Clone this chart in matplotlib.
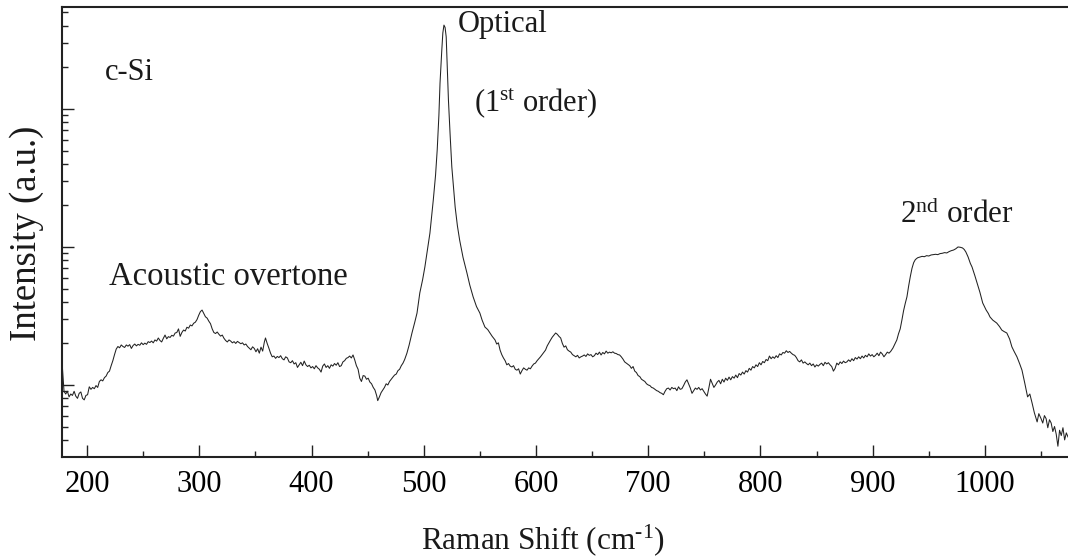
import numpy as np
import matplotlib
matplotlib.use("Agg")
import matplotlib.pyplot as plt
from matplotlib.ticker import LogLocator, NullFormatter, MultipleLocator

plt.rcParams['font.family'] = ['Liberation Serif', 'DejaVu Serif']
plt.rcParams['mathtext.fontset'] = 'custom'
plt.rcParams['mathtext.rm'] = 'Liberation Serif'
plt.rcParams['mathtext.it'] = 'Liberation Serif:italic'

# Raman spectrum of c-Si, piece by piece (cm-1, a.u.)
# acoustic overtone region
shift_a = [178, 179.5, 181, 182.5, 184, 185.5, 187, 188.5, 190, 191.5, 193, 194.5, 196, 197.5,
           199, 200.5, 202, 203.5, 205, 206.5, 208, 209.5, 211, 212.5, 214, 215.5, 217, 218.5,
           220, 221.5, 223, 224.5, 226, 227.5, 229, 230.5, 232, 233.5, 235, 236.5, 238, 239.5,
           241, 242.5, 244, 245.5, 247, 248.5, 250, 251.5, 253, 254.5, 256, 257.5, 259, 260.5,
           262, 263.5, 265, 266.5, 268, 269.5, 271, 272.5, 274, 275.5, 277, 278.5, 280, 281.5,
           283, 284.5, 286, 287.5, 289, 290.5, 292, 293.5, 295, 296.5, 298, 299.5, 301, 302.5,
           304, 305.5, 307, 308.5, 310]
int_a = [1.36, 0.90, 0.86, 0.90, 0.82, 0.86, 0.84, 0.90, 0.83, 0.80, 0.87, 0.89, 0.80, 0.78,
         0.84, 0.85, 0.97, 0.93, 0.96, 0.94, 0.99, 0.96, 1.06, 1.09, 1.07, 1.13, 1.16, 1.23,
         1.26, 1.38, 1.50, 1.66, 1.82, 1.90, 1.86, 1.95, 1.90, 1.87, 1.95, 1.91, 1.96, 1.84,
         1.93, 1.98, 1.92, 1.97, 1.94, 2.02, 1.96, 2.01, 1.97, 2.06, 2.03, 2.08, 2.02, 2.12,
         2.08, 2.19, 2.10, 2.05, 2.18, 2.30, 2.16, 2.24, 2.21, 2.29, 2.26, 2.38, 2.40, 2.55,
         2.25, 2.40, 2.50, 2.46, 2.62, 2.58, 2.72, 2.68, 2.80, 2.85, 2.98, 3.20, 3.40, 3.49,
         3.30, 3.12, 3.05, 2.90, 2.78]

shift_b = [311.5, 313, 314.5, 316, 317.5, 319, 320.5, 322, 323.5, 325, 326.5, 328, 329.5, 331,
           332.5, 334, 335.5, 337, 338.5, 340, 341.5, 343, 344.5, 346, 347.5, 349, 350.5, 352,
           353.5, 355, 356.5, 358, 359, 360.5, 362, 363.5, 365, 366.5, 368, 369.5, 371, 372.5,
           374, 375.5, 377, 378.5, 380, 381.5, 383, 384.5, 386, 387.5, 389, 390.5, 392, 393.5,
           395, 396.5, 398, 399.5, 401, 402.5, 404, 405.5, 407, 408.5, 410, 411.5, 413, 414.5,
           416, 417.5, 419, 420.5, 422, 423.5, 425, 426.5, 428, 429.5, 431, 432.5, 434, 435.5,
           437, 438.5, 440, 441.5, 443, 444.5, 446, 447.5, 449, 450.5, 452, 453.5, 455, 456.5,
           458, 459, 460.5]
int_b = [2.55, 2.40, 2.36, 2.42, 2.33, 2.26, 2.30, 2.18, 2.10, 2.05, 2.12, 2.08, 2.02, 2.06,
         2.00, 2.07, 2.03, 1.99, 2.02, 1.95, 1.98, 1.90, 1.85, 1.80, 1.89, 1.84, 1.74, 1.83,
         1.70, 1.88, 1.76, 2.05, 2.19, 2.00, 1.85, 1.70, 1.60, 1.62, 1.56, 1.61, 1.58, 1.63,
         1.55, 1.52, 1.60, 1.57, 1.47, 1.45, 1.50, 1.42, 1.45, 1.34, 1.40, 1.46, 1.38, 1.49,
         1.40, 1.36, 1.39, 1.33, 1.36, 1.31, 1.38, 1.33, 1.30, 1.24, 1.37, 1.42, 1.34, 1.38,
         1.32, 1.40, 1.37, 1.43, 1.39, 1.45, 1.36, 1.38, 1.47, 1.50, 1.56, 1.58, 1.62, 1.57,
         1.65, 1.52, 1.38, 1.30, 1.12, 1.06, 1.17, 1.16, 1.10, 1.12, 1.05, 1.02, 0.96, 0.92,
         0.84, 0.77, 0.82]

# first-order optical peak
shift_c = [462, 463.5, 465, 466.5, 468, 469.5, 471, 472.5, 474, 475.5, 477, 478.5, 480, 481.5,
           483, 485, 487, 489.5, 492, 494, 496.5, 499, 501, 503, 505.5, 508.5, 510.5, 512,
           513.5, 514.5, 516, 517, 518, 519, 520, 521, 522, 523.5, 525, 528, 530, 532, 535,
           538.5, 541, 544, 547, 550, 552, 554.5, 557, 559]
int_c = [0.88, 0.92, 0.96, 1.02, 1.00, 1.06, 1.10, 1.14, 1.18, 1.20, 1.27, 1.30, 1.38, 1.44,
         1.53, 1.70, 1.95, 2.38, 2.85, 3.32, 4.65, 5.8, 7.16, 9.2, 12.6, 21.9, 33, 50.6, 90,
         154, 260, 355, 405, 390, 333, 200, 116, 65, 38.1, 19.4, 14.2, 11.2, 8.4, 6.47, 5.3,
         4.35, 3.7, 3.32, 2.95, 2.63, 2.52, 2.38]

shift_d = [561, 563.5, 565, 566.5, 568, 569.5, 571, 572.5, 574, 575.5, 577, 578.5, 580, 581.5,
           583, 584.5, 586, 587.5, 589, 590.5, 592, 593.5, 595, 596.5, 598, 599.5, 601, 602.5,
           604, 605.5, 607, 608.5, 610, 611.5, 613, 614.5, 616, 617.5, 619, 620.5, 622, 623.5,
           625, 626.5, 628, 629.5, 631, 632.5, 634, 635.5, 637, 638.5, 640, 641.5, 643, 644.5,
           646, 647.5, 649, 650.5, 652, 653.5, 655, 656.5, 658, 659.5, 661, 662.5, 664, 665.5,
           667, 668.5, 670, 671.5, 673, 674.5, 676, 677.5, 679, 680.5, 682, 683.5, 685, 686.5,
           688, 689.5, 691, 692.5, 694, 695.5, 697, 698.5, 700]
int_d = [2.25, 2.12, 1.98, 2.02, 1.79, 1.66, 1.57, 1.50, 1.40, 1.43, 1.37, 1.35, 1.38, 1.30,
         1.28, 1.31, 1.20, 1.27, 1.33, 1.30, 1.28, 1.33, 1.31, 1.37, 1.42, 1.44, 1.50, 1.55,
         1.60, 1.66, 1.72, 1.79, 1.92, 2.02, 2.12, 2.22, 2.30, 2.38, 2.33, 2.25, 2.19, 2.00,
         1.88, 1.92, 1.80, 1.76, 1.73, 1.66, 1.63, 1.60, 1.64, 1.57, 1.60, 1.62, 1.65, 1.61,
         1.68, 1.64, 1.66, 1.60, 1.63, 1.70, 1.66, 1.73, 1.65, 1.72, 1.68, 1.76, 1.70, 1.73,
         1.71, 1.74, 1.70, 1.69, 1.66, 1.65, 1.60, 1.54, 1.47, 1.44, 1.41, 1.38, 1.32, 1.36,
         1.26, 1.23, 1.17, 1.15, 1.10, 1.08, 1.06, 1.02, 1.00]

shift_e = [701.5, 703, 704.5, 706, 707.5, 709, 710.5, 712, 713.5, 715, 716.5, 718, 719.5, 721,
           722.5, 724, 725.5, 727, 728.5, 730, 731.5, 733, 734.5, 736, 737.5, 739, 740.5, 742,
           743.5, 745, 746.5, 748, 749.5, 751, 752.5, 754, 755.5, 757, 758.5, 760, 761.5, 763,
           764.5, 766, 767.5, 769, 770.5, 772, 773.5, 775, 776.5, 778, 779.5, 781, 782.5, 784,
           785.5, 787, 788.5, 790, 791.5, 793, 794.5, 796, 797.5, 799, 800.5, 802, 803.5, 805,
           806.5, 808, 809.5, 811, 812.5, 814, 815.5, 817, 818.5, 820, 821.5, 823, 824.5, 826,
           827.5, 829, 830.5, 832, 833.5, 835, 836.5, 838, 839.5, 841, 842.5, 844, 845.5, 847,
           848.5, 850, 851.5, 853, 854.5, 856, 857.5, 859, 860.5, 862, 863.5, 865, 866.5, 868,
           869.5, 871, 872.5, 874, 875.5, 877, 878.5, 880, 881.5, 883, 884.5, 886, 887.5, 889,
           890.5, 892, 893.5, 895, 896.5, 898, 899.5, 901, 902.5]
int_e = [0.99, 0.96, 0.95, 0.93, 0.91, 0.90, 0.88, 0.87, 0.85, 0.90, 0.94, 0.95, 0.92, 0.96,
         0.94, 0.95, 0.91, 0.97, 0.93, 0.94, 0.99, 1.05, 1.09, 1.02, 0.95, 0.87, 0.91, 0.95,
         0.93, 0.96, 0.92, 0.94, 0.90, 0.86, 0.83, 0.95, 1.10, 1.03, 0.96, 1.00, 1.05, 1.08,
         1.02, 1.10, 1.05, 1.12, 1.08, 1.14, 1.09, 1.15, 1.12, 1.18, 1.13, 1.21, 1.18, 1.24,
         1.20, 1.27, 1.24, 1.32, 1.28, 1.36, 1.33, 1.40, 1.36, 1.45, 1.40, 1.48, 1.45, 1.53,
         1.50, 1.62, 1.55, 1.60, 1.56, 1.63, 1.58, 1.68, 1.65, 1.72, 1.70, 1.77, 1.72, 1.75,
         1.70, 1.66, 1.64, 1.58, 1.50, 1.47, 1.52, 1.44, 1.47, 1.43, 1.40, 1.44, 1.38, 1.42,
         1.35, 1.40, 1.37, 1.41, 1.44, 1.38, 1.46, 1.42, 1.45, 1.40, 1.36, 1.26, 1.32, 1.44,
         1.40, 1.47, 1.43, 1.49, 1.45, 1.47, 1.52, 1.48, 1.55, 1.50, 1.58, 1.54, 1.60, 1.55,
         1.62, 1.57, 1.64, 1.60, 1.68, 1.62, 1.66, 1.60, 1.64]

# second-order band and the tail
shift_f = [904, 905.5, 907, 908.5, 910, 911.5, 913, 914.5, 916, 918, 920, 921.5, 923, 924.5,
           926, 927.5, 929, 930.5, 932, 933.5, 935, 936.5, 938, 940, 942, 944, 946, 948, 950,
           952, 954, 956, 958, 960, 962, 964, 966, 968, 970, 972, 974, 976, 978, 980, 981.5,
           983, 985, 987, 988.5, 991, 993, 995.5, 998, 1001, 1003, 1004.5, 1007, 1010.5,
           1013, 1015, 1017, 1019.5, 1022, 1024, 1026, 1028.5, 1031, 1033, 1035.5, 1038, 1040,
           1042, 1044, 1046.5, 1048, 1050, 1051.5, 1053, 1054.5, 1056, 1057.5, 1059, 1060.5,
           1062, 1063.5, 1065, 1066.5, 1068, 1069.5, 1071, 1072.5, 1074]
int_f = [1.70, 1.63, 1.73, 1.68, 1.60, 1.66, 1.73, 1.70, 1.75, 1.85, 2.00, 2.12, 2.35, 2.55,
         2.95, 3.45, 3.90, 4.35, 5.20, 6.10, 7.00, 7.70, 8.10, 8.35, 8.45, 8.55, 8.50, 8.65,
         8.60, 8.75, 8.80, 8.85, 8.80, 8.95, 9.00, 9.10, 9.05, 9.25, 9.40, 9.50, 9.70, 10.0,
         9.95, 9.84, 9.60, 9.20, 8.46, 7.60, 7.16, 6.20, 5.49, 4.70, 3.93, 3.50, 3.30, 3.11,
         2.95, 2.81, 2.65, 2.50, 2.44, 2.38, 2.15, 1.89, 1.75, 1.60, 1.42, 1.28, 1.03, 0.82,
         0.86, 0.74, 0.63, 0.54, 0.62, 0.57, 0.53, 0.60, 0.57, 0.49, 0.56, 0.53, 0.46, 0.50,
         0.44, 0.36, 0.47, 0.43, 0.49, 0.40, 0.45, 0.42]

shift = shift_a + shift_b + shift_c + shift_d + shift_e + shift_f
intensity = int_a + int_b + int_c + int_d + int_e + int_f

labels = [("c-Si", 216, 185, 22),
          ("Acoustic overtone", 220, 6.06, 23.5),
          ("Optical", 530, 406, 22),
          ("(1$^{\\mathrm{st}}$ order)", 545, 110, 22),
          ("2$^{\\mathrm{nd}}$ order", 924, 17.1, 22.5)]

fig = plt.figure(figsize=(10.68, 5.58), dpi=100)
ax = fig.add_axes([62/1068, 101/558, 1006/1068, 450/558])

ax.plot(shift, intensity, color='#222222', lw=0.75)

ax.set_yscale('log')
ax.set_xlim(177.7, 1074)
ax.set_ylim(0.3007, 548)

ax.xaxis.set_major_locator(MultipleLocator(100))
ax.xaxis.set_minor_locator(MultipleLocator(50))
ax.yaxis.set_major_locator(LogLocator(base=10, numticks=10))
ax.yaxis.set_minor_locator(LogLocator(base=10, subs=np.arange(2, 10), numticks=10))
ax.yaxis.set_major_formatter(NullFormatter())
ax.yaxis.set_minor_formatter(NullFormatter())

ax.tick_params(which='both', direction='in', top=False, right=False, color='#222222')
ax.tick_params(which='major', length=8.5, width=1.0)
ax.tick_params(which='minor', length=4.5, width=1.0)
ax.tick_params(axis='x', labelsize=22, pad=9)

ax.spines['right'].set_visible(False)
for s in ['left', 'bottom', 'top']:
    ax.spines[s].set_linewidth(1.5)
    ax.spines[s].set_color('#222222')

for txt, x, y, fs in labels:
    ax.text(x, y, txt, fontsize=fs, ha='left', va='center', color='#1a1a1a')

fig.text(543/1068, 1 - 540/558, 'Raman Shift (cm$^{\u2010 1}$)', fontsize=22.5,
         ha='center', va='center', color='#1a1a1a')
fig.text(27/1068, 1 - 233/558, 'Intensity (a.u.)', fontsize=26.5, rotation=90,
         ha='center', va='center', color='#1a1a1a')

fig.savefig('out.png', dpi=100)
